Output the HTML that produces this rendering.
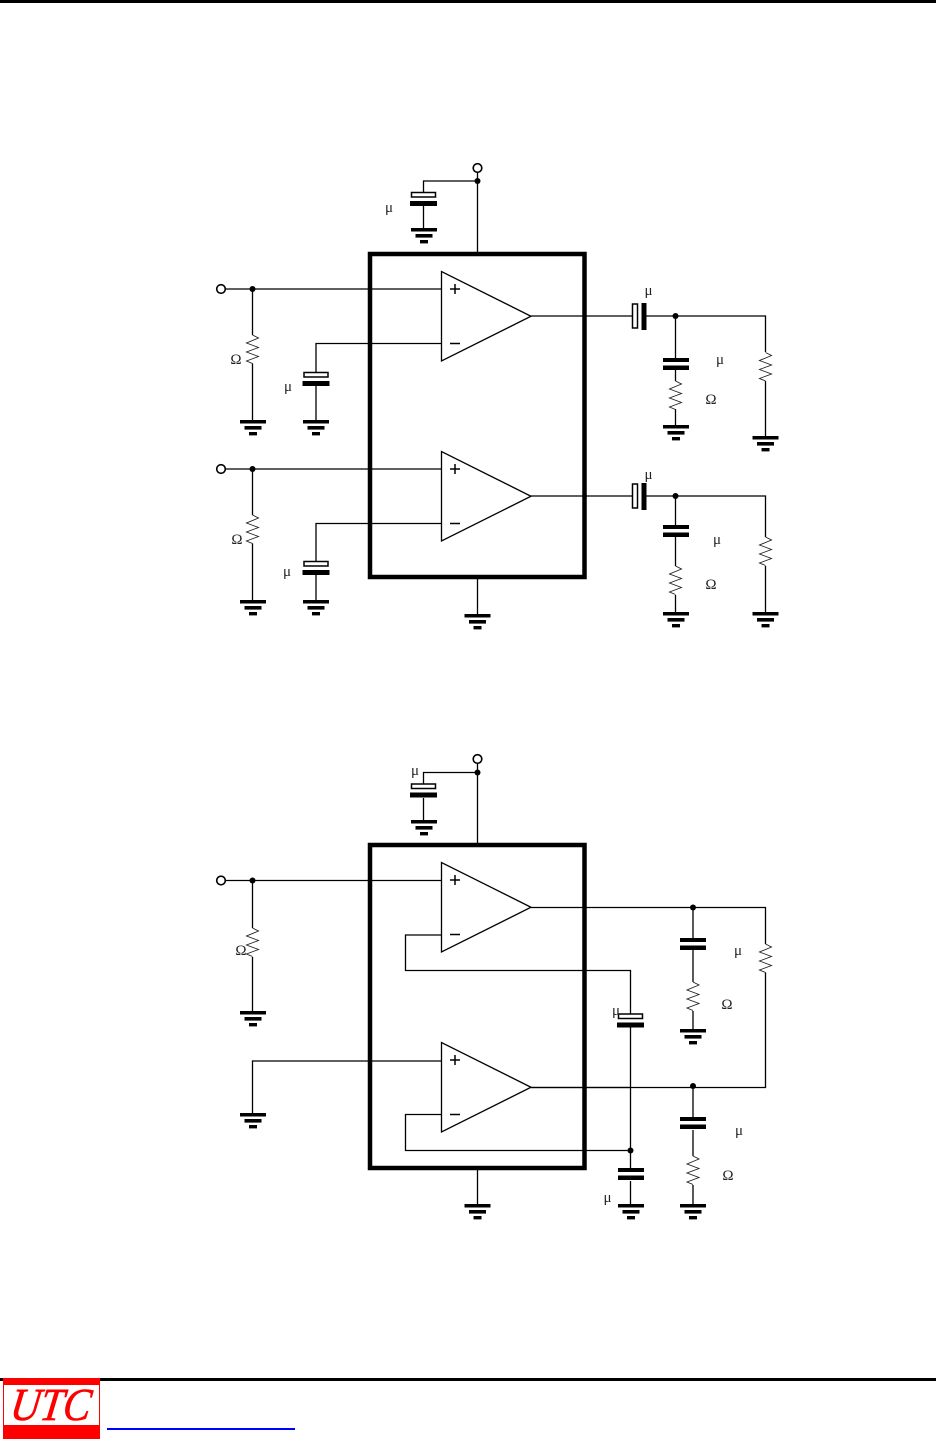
<!DOCTYPE html>
<html><head><meta charset="utf-8"><style>
html,body{margin:0;padding:0;background:#fff}
svg{display:block}
text{font-family:"Liberation Serif",serif;font-size:15px;fill:#222;text-anchor:middle}
.w{fill:none;stroke:#000;stroke-width:1.300}
.r{fill:none;stroke:#222;stroke-width:.9}
</style></head><body>
<svg width="936" height="1439" viewBox="0 0 936 1439" xmlns="http://www.w3.org/2000/svg">
<defs>
<g id="gnd"><rect x="-13" y="0" width="26" height="3.500"/><rect x="-8.500" y="6" width="17" height="3.600"/><rect x="-4" y="12" width="8" height="3.400"/></g>
<g id="pc"><rect x="-12" y="0.500" width="24" height="4.500" fill="#fff" stroke="#000" stroke-width="1.500"/><rect x="-13.500" y="9" width="27" height="5"/></g>
<g id="nc"><rect x="-13" y="0" width="26" height="4"/><rect x="-13" y="7.500" width="26" height="4.500"/></g>
<g id="pv"><rect x="-43" y="-12" width="5" height="24" fill="#fff" stroke="#000" stroke-width="1.500"/><rect x="-34" y="-13" width="5" height="27"/></g>
<path id="res" class="r" d="M0 0L6 3 -6 8 6 12.500 -6 17 6 21.500 -6 26 0 28.500"/>
<g id="opamp"><path d="M0 0V89.500L89.500 44.750Z" fill="#fff" stroke="#000" stroke-width="1.300"/><path d="M8.500 17.500H18.500M13.500 12.500V22.500M8.500 72H18.500" fill="none" stroke="#000" stroke-width="1.500"/></g>
<circle id="dot" r="3"/>
<circle id="term" r="4.300" fill="#fff" stroke="#000" stroke-width="1.600"/>
</defs>
<rect width="936" height="1439" fill="#fff"/>
<rect x="0" y="0" width="936" height="3"/>

<!-- top diagram wires -->
<path class="w" d="M477.500 172V254M477.500 181H423.500V192M423.500 206V228"/>
<path class="w" d="M226 289H442M252.500 289V335M252.500 363.500V420M442 343.500H316V372M316 386V420"/>
<path class="w" d="M226 469H442M252.500 469V515M252.500 543.500V600M442 523.500H316V561M316 575V600"/>
<path class="w" d="M531 316H633M646 316H765.500V352M765.500 381V436M675.500 316V358M675.500 370V381M675.500 409V425"/>
<path class="w" d="M531 496H633M646 496H765.500V537M765.500 566V612M675.500 496V525M675.500 537V566M675.500 595V612"/>
<path class="w" d="M477.500 577V614"/>
<use href="#opamp" x="441.500" y="271.500"/><use href="#opamp" x="441.500" y="451.500"/>
<rect x="370" y="254" width="214.500" height="323" fill="none" stroke="#000" stroke-width="4.500"/>
<use href="#term" x="477.500" y="168"/><use href="#dot" x="477.500" y="181"/>
<use href="#pc" x="423.500" y="192"/><use href="#gnd" x="424" y="228"/>
<use href="#term" x="221" y="289"/><use href="#dot" x="252.500" y="289"/>
<use href="#res" x="252.500" y="335"/><use href="#gnd" x="253" y="420"/>
<use href="#pc" x="316" y="372"/><use href="#gnd" x="316" y="420"/>
<use href="#pv" x="675.500" y="316"/><use href="#dot" x="675.500" y="316"/>
<use href="#nc" x="676" y="358"/><use href="#res" x="675.500" y="381"/><use href="#gnd" x="676" y="425"/>
<use href="#res" x="765.500" y="352.500"/><use href="#gnd" x="765.500" y="436"/>
<use href="#term" x="221" y="469"/><use href="#dot" x="252.500" y="469"/>
<use href="#res" x="252.500" y="515"/><use href="#gnd" x="253" y="600"/>
<use href="#pc" x="316" y="561"/><use href="#gnd" x="316" y="600"/>
<use href="#pv" x="675.500" y="496"/><use href="#dot" x="675.500" y="496"/>
<use href="#nc" x="676" y="525"/><use href="#res" x="675.500" y="566"/><use href="#gnd" x="676" y="612"/>
<use href="#res" x="765.500" y="537"/><use href="#gnd" x="765.500" y="612"/>
<use href="#gnd" x="477.500" y="614"/>
<text x="389" y="212">μ</text><text x="236" y="364">Ω</text><text x="288" y="391">μ</text>
<text x="648.500" y="295">μ</text><text x="720" y="364">μ</text><text x="711" y="404">Ω</text>
<text x="237" y="544">Ω</text><text x="287" y="576">μ</text><text x="648.500" y="479">μ</text>
<text x="717" y="544">μ</text><text x="711" y="589">Ω</text>

<!-- bottom diagram wires -->
<path class="w" d="M477.500 763V845M477.500 772.500H423.500V784M423.500 798V821"/>
<path class="w" d="M226 880.500H442M252.500 880.500V928M252.500 957V1012M442 935H405.500V970.500H630.500V1014M630.500 1027V1168M630.500 1181V1204M442 1114.500H405.500V1150.500H630.500"/>
<path class="w" d="M442 1061H252.500V1113"/>
<path class="w" d="M531 907.500H765.500V944M765.500 972.500V1087.500H531M693 907.500V938M693 950V982M693 1011V1030M693 1086V1118M693 1130V1156M693 1185V1204"/>
<path class="w" d="M477.500 1168V1204"/>
<use href="#opamp" x="441.500" y="862.500"/><use href="#opamp" x="441.500" y="1042.500"/>
<path class="w" d="M531 1087.500H630"/>
<rect x="370" y="845" width="214.500" height="323" fill="none" stroke="#000" stroke-width="4.500"/>
<use href="#term" x="477.500" y="759"/><use href="#dot" x="477.500" y="772.500"/>
<use href="#pc" x="423.500" y="783.500"/><use href="#gnd" x="424" y="820"/>
<use href="#term" x="221" y="880.500"/><use href="#dot" x="252.500" y="880.500"/>
<use href="#res" x="252.500" y="928"/><use href="#gnd" x="253" y="1011"/>
<use href="#gnd" x="253" y="1113"/>
<use href="#pc" x="630.500" y="1013.500"/><use href="#dot" x="630.500" y="1150.500"/>
<use href="#nc" x="631" y="1168"/><use href="#gnd" x="631" y="1204"/>
<use href="#dot" x="693" y="907.500"/><use href="#dot" x="693" y="1086"/>
<use href="#nc" x="693" y="938"/><use href="#res" x="693" y="982"/><use href="#gnd" x="693" y="1029"/>
<use href="#nc" x="693" y="1117"/><use href="#res" x="693" y="1156"/><use href="#gnd" x="693" y="1204"/>
<use href="#res" x="765.500" y="944"/>
<use href="#gnd" x="477.500" y="1204"/>
<text x="415" y="775">μ</text><text x="241" y="955">Ω</text><text x="616" y="1015">μ</text>
<text x="607.500" y="1202">μ</text><text x="738" y="955">μ</text><text x="727" y="1009">Ω</text>
<text x="739" y="1135">μ</text><text x="728" y="1180">Ω</text>

<!-- footer -->
<rect x="0" y="1378" width="936" height="3"/>
<rect x="3" y="1378" width="97" height="61" fill="#f00"/>
<rect x="4" y="1385" width="95" height="40" fill="#fff"/>
<text transform="translate(49 1420) skewX(-8)" x="0" y="0" style="font-size:46px;font-style:italic;fill:#f00;stroke:#f00;stroke-width:.7" textLength="80" lengthAdjust="spacingAndGlyphs">UTC</text>
<rect x="107" y="1428" width="188" height="2" fill="#00f"/>
</svg>
</body></html>
